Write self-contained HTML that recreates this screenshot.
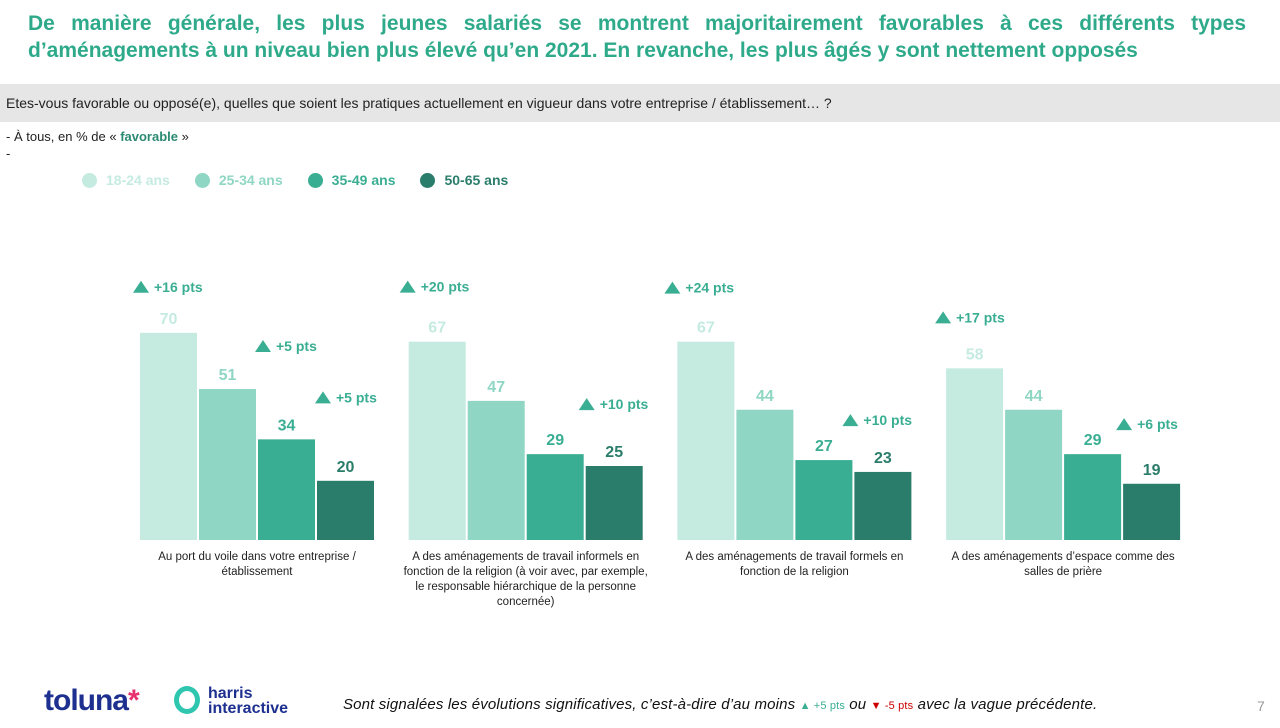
<!DOCTYPE html>
<html><head><meta charset="utf-8">
<style>
body{margin:0;width:1280px;height:728px;background:#fff;font-family:"Liberation Sans",sans-serif;position:relative;overflow:hidden}
.title{position:absolute;left:28px;top:10px;width:1218px;color:#2eaa8a;font-weight:bold;font-size:21px;line-height:27px;text-align:justify;text-align-last:left}
.qbar{position:absolute;left:0;top:84px;width:1280px;height:38px;background:#e6e6e6;font-size:14px;color:#222;line-height:38px;padding-left:6px;box-sizing:border-box}
.sub{position:absolute;left:6px;top:128px;font-size:13px;color:#222;line-height:17px}
.legend{position:absolute;top:172px;left:82px;display:flex;gap:25px;font-size:14px;font-weight:bold}
.legend span{display:flex;align-items:center}
.legend i{display:inline-block;width:15px;height:15px;border-radius:50%;margin-right:9px}
svg{position:absolute;left:0;top:0}
.foot{position:absolute;top:696px;left:343px;font-size:15px;font-style:italic;color:#111;letter-spacing:0.15px}
</style></head><body>
<div class="title">De manière générale, les plus jeunes salariés se montrent majoritairement favorables à ces différents types d’aménagements à un niveau bien plus élevé qu’en 2021. En revanche, les plus âgés y sont nettement opposés</div>
<div class="qbar">Etes-vous favorable ou opposé(e), quelles que soient les pratiques actuellement en vigueur dans votre entreprise / établissement… ?</div>
<div class="sub">- À tous, en % de « <b style="color:#2b8a73">favorable</b> »<br>-</div>
<div class="legend">
<span style="color:#c5ebe1"><i style="background:#c5ebe1"></i>18-24 ans</span>
<span style="color:#8fd6c4"><i style="background:#8fd6c4"></i>25-34 ans</span>
<span style="color:#3aae93"><i style="background:#3aae93"></i>35-49 ans</span>
<span style="color:#2b7d6b"><i style="background:#2b7d6b"></i>50-65 ans</span>
</div>
<svg id="chart" width="1280" height="728"></svg>
<div style="position:absolute;left:44px;top:684px;font-weight:bold;font-size:30px;color:#1d2f8f;letter-spacing:-1px">toluna<span style="color:#e8306f">*</span></div>
<div style="position:absolute;left:174px;top:686px;width:26px;height:28px;border:5px solid #2fc6b0;border-radius:50%;box-sizing:border-box"></div>
<div style="position:absolute;left:208px;top:686px;font-weight:bold;font-size:16px;line-height:15px;color:#1d2f8f">harris<br>interactive</div>
<div class="foot">Sont signalées les évolutions significatives, c’est-à-dire d’au moins <span style="color:#3aae93;font-style:normal;font-size:11px">▲ +5 pts</span> ou <span style="color:#c00;font-style:normal;font-size:11px">▼ -5 pts</span> avec la vague précédente.</div>
<div style="position:absolute;left:1257px;top:698px;font-size:14px;color:#999">7</div>
<script>
const categories=["Au port du voile dans votre entreprise / établissement","A des aménagements de travail informels en fonction de la religion (à voir avec, par exemple, le responsable hiérarchique de la personne concernée)","A des aménagements de travail formels en fonction de la religion","A des aménagements d’espace comme des salles de prière"];
const categoryLines=[["Au port du voile dans votre entreprise /","établissement"],["A des aménagements de travail informels en","fonction de la religion (à voir avec, par exemple,","le responsable hiérarchique de la personne","concernée)"],["A des aménagements de travail formels en","fonction de la religion"],["A des aménagements d’espace comme des","salles de prière"]];
const series=["18-24 ans","25-34 ans","35-49 ans","50-65 ans"];
const values=[[70,51,34,20],[67,47,29,25],[67,44,27,23],[58,44,29,19]];
const deltaGroup=[0,0,0,1,1,2,2,3,3];
const deltaBar=[0,1,2,0,2,0,2,0,2];
const deltaText=["+16 pts","+5 pts","+5 pts","+20 pts","+10 pts","+24 pts","+10 pts","+17 pts","+6 pts"];
const deltaDx=[1,64,65,-1,60,-5,55,-3,60];
const deltaDy=[46,43,42,55,50,54,40,51,30];
const colors=["#c5ebe1","#8fd6c4","#3aae93","#2b7d6b"];
const labelColors=["#c5ebe1","#8fd6c4","#3aae93","#2b7d6b"];
const svg=document.getElementById('chart');
const NS="http://www.w3.org/2000/svg";
const base=540,scale=2.96,g0=140,gStep=268.7,bw=57,bStep=59;
const y=v=>base-v*scale;
const bx=(g,i)=>g0+g*gStep+i*bStep;
function mk(t,a){const e=document.createElementNS(NS,t);for(const k in a)e.setAttribute(k,a[k]);svg.appendChild(e);return e;}
values.forEach((row,g)=>{
  row.forEach((v,i)=>{
    const r=mk('rect',{x:bx(g,i),y:y(v),width:bw,height:v*scale,fill:colors[i]});
    
    
    const t=mk('text',{x:bx(g,i)+bw/2,y:y(v)-9,'text-anchor':'middle','font-size':16,'font-weight':'bold',fill:labelColors[i],'font-family':'Liberation Sans'});
    t.textContent=v;
    
    
  });
  const cx=bx(g,0)+(4*bStep-2)/2;
  categoryLines[g].forEach((ln,k)=>{
    const t=mk('text',{x:cx,y:560+k*15,'text-anchor':'middle','font-size':11.5,fill:'#222','font-family':'Liberation Sans'});
    t.textContent=ln;
    
    
  });
});
deltaText.forEach((txt,j)=>{
  const g=deltaGroup[j],i=deltaBar[j];
  const tx=bx(g,i)+deltaDx[j],ty=y(values[g][i])-deltaDy[j];
  const p=mk('polygon',{points:`${tx-8},${ty+6} ${tx+8},${ty+6} ${tx},${ty-6}`,fill:'#3aae93'});
  
  
  const t=mk('text',{x:tx+13,y:ty+5,'font-size':14,'font-weight':'bold',fill:'#3aae93','font-family':'Liberation Sans'});
  t.textContent=txt;
  
  
});
</script>
</body></html>
